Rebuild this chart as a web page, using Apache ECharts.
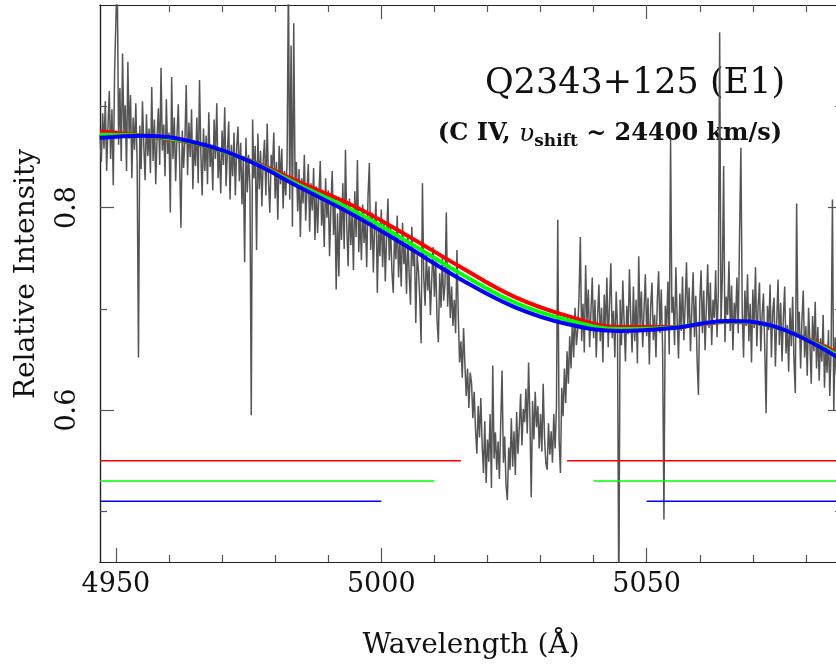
<!DOCTYPE html>
<html>
<head>
<meta charset="utf-8">
<script src="https://cdn.jsdelivr.net/npm/echarts@6/dist/echarts.min.js"></script>
<style>
  html, body { margin: 0; padding: 0; background: #fff; }
  #chart { width: 836px; height: 669px; }
</style>
</head>
<body>
<div id="chart"></div>
<script>
// spectrum, one flux value every 0.25 A from 4947 A
const waveStart = 4947;
const waveStep = 0.25;
const flux = [
  .872,.845,.893,.858,.905,.836,.880,.915,.848,.897,.822,.934,.985,1.03,.862,.918,.846,.952,.873,.901,
  .836,.944,.868,.911,.829,.889,.857,.903,.842,.652,.881,.838,.905,.862,.827,.892,.851,.878,.834,.919,
  .846,.887,.823,.871,.898,.842,.938,.856,.882,.831,.907,.853,.874,.795,.929,.848,.889,.826,.870,.902,
  .845,.780,.876,.839,.868,.921,.832,.884,.850,.897,.818,.866,.841,.889,.824,.926,.853,.812,.878,.836,
  .871,.823,.894,.840,.862,.817,.887,.848,.903,.829,.858,.814,.876,.842,.899,.821,.855,.885,.808,.862,
  .831,.874,.812,.859,.880,.826,.864,.803,.848,.746,.869,.815,.852,.820,.595,.887,.829,.861,.758,.873,
  .818,.856,.801,.847,.867,.812,.883,.826,.795,.852,.838,.874,.809,.845,.788,.861,.823,.858,.799,.836,
  .812,.846,1.03,.808,.960,.781,.982,.827,.845,.796,.838,.771,.829,.804,.852,.787,.818,.843,.776,.824,
  .797,.839,.768,.821,.775,.815,.846,.782,.808,.761,.829,.790,.817,.752,.801,.836,.773,.812,.719,.794,
  .732,.805,.768,.824,.759,.857,.781,.742,.809,.763,.795,.738,.816,.771,.847,.756,.792,.748,.803,.765,
  .789,.741,.812,.844,.758,.795,.736,.783,.806,.716,.779,.752,.798,.741,.786,.727,.772,.809,.748,.781,
  .737,.716,.776,.749,.792,.731,.768,.722,.785,.744,.761,.715,.773,.734,.704,.781,.742,.759,.686,.753,
  .738,.709,.666,.824,.731,.703,.756,.718,.742,.694,.729,.761,.712,.747,.689,.667,.735,.701,.752,.708,
  .724,.795,.702,.739,.691,.722,.683,.709,.676,.758,.694,.647,.668,.632,.681,.645,.614,.641,.602,.637,
  .627,.592,.618,.581,.557,.604,.573,.612,.566,.538,.589,.528,.571,.549,.596,.523,.644,.552,.578,.541,
  .569,.532,.587,.639,.548,.574,.526,.511,.563,.541,.592,.544,.579,.536,.598,.557,.583,.616,.565,.601,
  .588,.621,.577,.647,.592,.514,.609,.571,.618,.583,.604,.562,.596,.559,.626,.573,.548,.541,.587,.556,
  .579,.548,.596,.562,.603,.788,.571,.538,.622,.594,.641,.607,.658,.626,.673,.641,.689,.652,.701,.664,
  .679,.712,.771,.668,.705,.657,.743,.686,.719,.662,.698,.731,.671,.709,.652,.693,.724,.668,.701,.647,
  .714,.679,.731,.662,.706,.745,.671,.698,.652,.717,.683,.400,.709,.664,.728,.686,.648,.703,.675,.739,
  .691,.657,.722,.668,.709,.646,.752,.683,.717,.662,.698,.734,.673,.711,.645,.702,.726,.669,.694,.652,
  .708,.737,.676,.719,.661,.492,.703,.681,.727,.655,.868,.696,.712,.664,.741,.689,.651,.715,.678,.732,
  .669,.704,.746,.683,.721,.658,.699,.736,.672,.713,.649,.615,.707,.738,.676,.718,.659,.702,.744,.681,
  .726,.664,.709,.691,.738,.672,.716,.973,.685,.729,.841,.667,.712,.694,.747,.678,.723,.659,.706,.688,
  .731,.676,.774,.859,.697,.652,.718,.683,.734,.668,.705,.647,.719,.681,.741,.663,.702,.726,.658,.694,
  .715,.661,.597,.703,.679,.724,.652,.697,.711,.643,.688,.729,.664,.706,.648,.691,.722,.656,.684,.638,
  .701,.663,.712,.649,.617,.804,.676,.697,.641,.689,.718,.652,.683,.634,.701,.667,.626,.693,.658,.707,
  .641,.682,.629,.671,.648,.694,.622,.665,.637,.679,.614,.661,.808,.599,.672,.635,.664
];

// smooth continuum fits (red, green, blue) read at these wavelengths
const fitWave  = [4947, 4955, 4965, 4975, 4985, 4995, 5005, 5015, 5025, 5035, 5045, 5055, 5065, 5075, 5086];
const fitRed   = [.875, .871, .863, .847, .824, .801, .772, .741, .712, .693, .682, .682, .687, .681, .656];
const fitGreen = [.872, .871, .8635, .8465, .821, .796, .766, .7345, .7065, .689, .680, .6815, .6875, .681, .654];
const fitBlue  = [.869, .871, .864, .846, .819, .792, .761, .729, .702, .685, .678, .681, .688, .681, .652];

// windows left out of each fit: level of the marker line, gap start, gap end
const maskLevel = [0.55, 0.53, 0.51];
const maskFrom  = [5015, 5010, 5000];
const maskTo    = [5035, 5040, 5050];
const maskColor = ['#ff0000', '#00ff00', '#0000ff'];

const xMajor = [4950, 5000, 5050];
const xMinor = [4960, 4970, 4980, 4990, 5010, 5020, 5030, 5040, 5060, 5070, 5080];
const yMajor = [0.6, 0.8];
const yMinor = [0.5, 0.7, 0.9];

const xMin = 4947, xMax = 5086.8;
const yMin = 0.45, yMax = 1.0;
const FONT = 'DejaVu Serif';

const chart = echarts.init(document.getElementById('chart'));

const spectrum = flux.map((v, i) => [waveStart + i * waveStep, v]);
const toPts = (ys) => fitWave.map((x, i) => [x, ys[i]]);

function xAx(pos, ticks, len, withLabel) {
  return {
    type: 'value', position: pos, min: xMin, max: xMax,
    axisLine: { show: true, onZero: false, lineStyle: { color: '#222', width: 1.2 } },
    axisTick: { show: true, inside: true, length: len, customValues: ticks,
      lineStyle: { color: '#555', width: 1.2 } },
    axisLabel: withLabel ? {
      customValues: xMajor, margin: 9, fontFamily: FONT, fontSize: 27, color: '#111',
      formatter: (v) => String(v)
    } : { show: false },
    splitLine: { show: false },
    name: withLabel ? 'Wavelength (Å)' : '',
    nameLocation: 'middle', nameGap: 70,
    nameTextStyle: { fontFamily: FONT, fontSize: 28, color: '#111' }
  };
}

function yAx(pos, ticks, len, withLabel) {
  return {
    type: 'value', position: pos, min: yMin, max: yMax,
    axisLine: { show: true, onZero: false, lineStyle: { color: '#222', width: 1.2 } },
    axisTick: { show: true, inside: true, length: len, customValues: ticks,
      lineStyle: { color: '#555', width: 1.2 } },
    axisLabel: withLabel ? {
      customValues: yMajor, rotate: 90, margin: 19, fontFamily: FONT, fontSize: 27, color: '#111',
      formatter: (v) => v.toFixed(1)
    } : { show: false },
    splitLine: { show: false }
  };
}

const series = [{
  type: 'line', data: spectrum, showSymbol: false, symbol: 'none',
  lineStyle: { color: '#555', width: 1.5 }, z: 2
}];

[[fitRed, '#ff0000'], [fitGreen, '#00ff00'], [fitBlue, '#0000ff']].forEach(([ys, c], k) => {
  series.push({
    type: 'line', data: toPts(ys), smooth: 0.4, symbol: 'none',
    lineStyle: { color: c, width: 4 }, z: 3 + k
  });
});

maskLevel.forEach((lv, k) => {
  series.push({
    type: 'line', data: [[xMin, lv], [maskFrom[k], lv]], symbol: 'none',
    lineStyle: { color: maskColor[k], width: 1.5 }, z: 6
  });
  series.push({
    type: 'line', data: [[maskTo[k], lv], [xMax, lv]], symbol: 'none',
    lineStyle: { color: maskColor[k], width: 1.5 }, z: 6
  });
});

const option = {
  animation: false,
  backgroundColor: '#fff',
  grid: { left: 100, top: 5, right: -6, bottom: 107, containLabel: false, outerBoundsMode: 'none' },
  xAxis: [
    xAx('bottom', xMajor, 14, true),
    xAx('bottom', xMinor, 7, false),
    xAx('top', xMajor, 14, false),
    xAx('top', xMinor, 7, false)
  ],
  yAxis: [
    yAx('left', yMajor, 14, true),
    yAx('left', yMinor, 7, false),
    yAx('right', yMajor, 14, false),
    yAx('right', yMinor, 7, false)
  ],
  graphic: [
    {
      type: 'text', x: 27, y: 274, rotation: Math.PI / 2,
      style: { text: 'Relative Intensity', font: '28px "DejaVu Serif"', fill: '#111',
        textAlign: 'center', textVerticalAlign: 'middle' }
    },
    {
      type: 'text', x: 635, y: 84,
      style: { text: 'Q2343+125 (E1)', font: '35px "DejaVu Serif"', fill: '#111',
        textAlign: 'center', textVerticalAlign: 'middle' }
    },
    {
      type: 'text', x: 610, y: 134,
      style: {
        text: '{a|(C IV, }{v|υ}{s|shift}{a| ~ 24400 km/s)}',
        textAlign: 'center', textVerticalAlign: 'middle', fill: '#111',
        rich: {
          a: { fontFamily: FONT, fontSize: 24, lineHeight: 32, fontWeight: 'bold' },
          v: { fontFamily: FONT, fontSize: 25, lineHeight: 32, fontStyle: 'italic' },
          s: { fontFamily: FONT, fontSize: 17, lineHeight: 17, fontWeight: 'bold', verticalAlign: 'bottom' }
        }
      }
    }
  ],
  series: series
};

chart.setOption(option);
</script>
</body>
</html>
